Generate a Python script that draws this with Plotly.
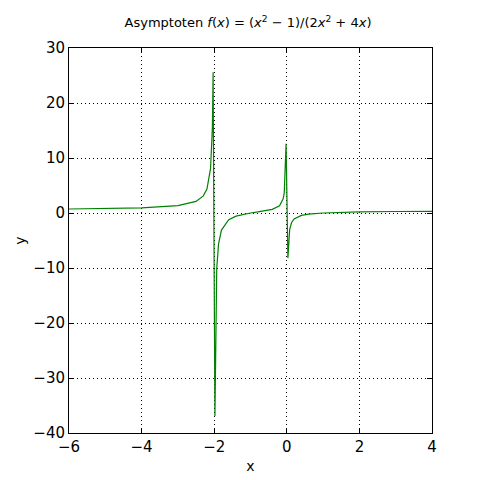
import plotly.graph_objects as go

# sample points
xs = [-6, -5, -4, -3, -2.5, -2.3, -2.2, -2.1, -2.05, -2.03,
      -1.98, -1.93, -1.88, -1.8, -1.6, -1.4, -1.2, -1.0, -0.8, -0.6,
      -0.4, -0.2, -0.1, -0.07, -0.02, 0.03, 0.08, 0.13, 0.2, 0.4,
      0.6, 1.0, 1.5, 2.0, 3.0, 4.0]
ys = [0.73, 0.8, 0.94, 1.33, 2.1, 3.11, 4.36, 8.1, 15.6, 25.6,
      -36.9, -10.1, -5.62, -3.11, -1.22, -0.57, -0.23, 0.0, 0.19, 0.38,
      0.66, 1.33, 2.6, 3.68, 12.6, -8.2, -2.99, -1.77, -1.09, -0.44,
      -0.21, 0.0, 0.12, 0.19, 0.27, 0.31]

fig = go.Figure(go.Scatter(x=xs, y=ys, mode="lines",
                           line=dict(color="#008000", width=1.2)))

axis = dict(showline=True, linecolor="black", linewidth=1, mirror="ticks",
            ticks="inside", ticklen=5, tickcolor="black",
            showgrid=True, gridcolor="black", griddash="1px,3px", gridwidth=1,
            zeroline=False, tickfont=dict(size=15, color="black"))

fig.update_layout(
    width=480, height=480,
    paper_bgcolor="white", plot_bgcolor="white",
    font=dict(family="DejaVu Sans", color="black"),
    showlegend=False,
    margin=dict(l=52, r=56, t=40, b=55),
    title=dict(text="Asymptoten <i>f</i>(<i>x</i>) = (<i>x</i><sup>2</sup> − 1)/(2<i>x</i><sup>2</sup> + 4<i>x</i>)",
               font=dict(size=13), x=0.5, xanchor="center", y=0.96, yanchor="bottom"),
    xaxis=dict(axis, range=[-6, 4], dtick=2,
               title=dict(text="x", font=dict(size=14), standoff=6)),
    yaxis=dict(axis, range=[-40, 30], dtick=10,
               title=dict(text="y", font=dict(size=14), standoff=4)),
)

fig.write_html("out.html")
